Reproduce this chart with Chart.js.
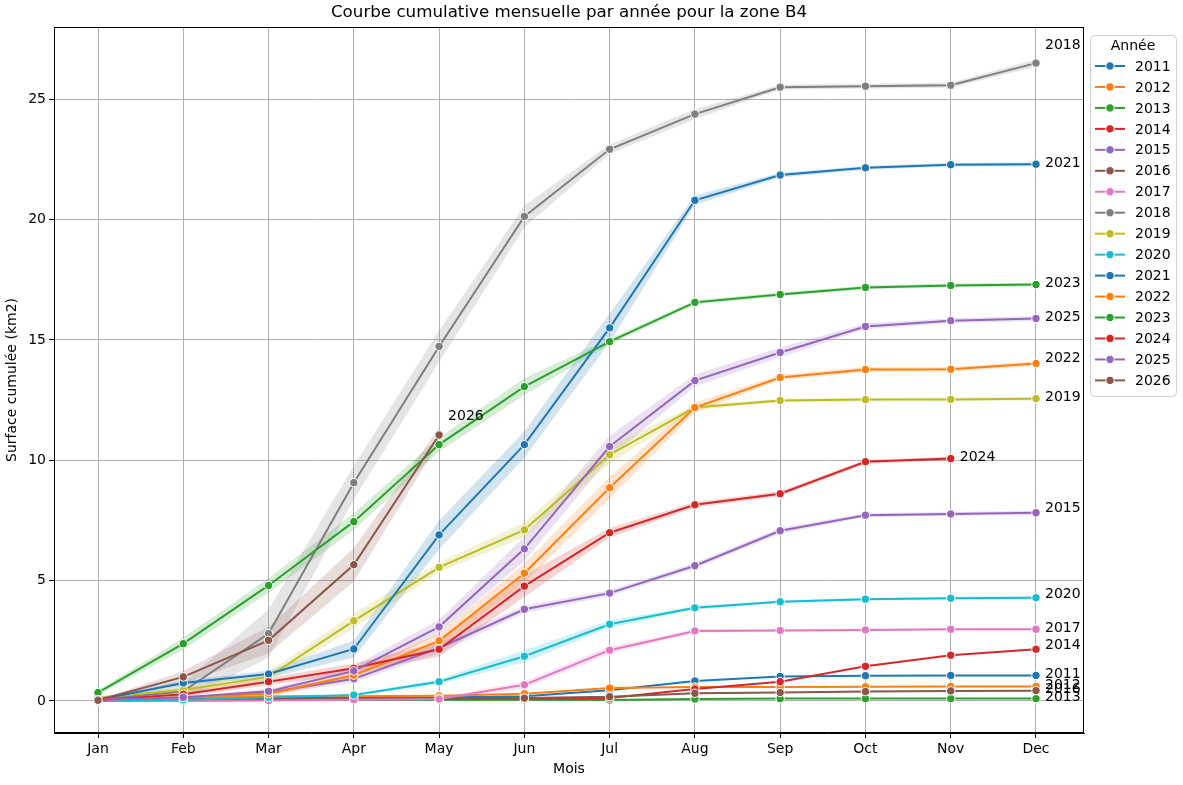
<!DOCTYPE html>
<html lang="fr">
<head>
<meta charset="UTF-8">
<title>Courbe cumulative mensuelle - zone B4</title>
<script src="https://cdn.jsdelivr.net/npm/chart.js"></script>
<style>
html, body { margin: 0; padding: 0; background: #fff; }
#wrap { width: 1183px; height: 785px; position: relative; }
</style>
</head>
<body>
<div id="wrap"><canvas id="chart"></canvas></div>
<script>
const chartTitle = "Courbe cumulative mensuelle par année pour la zone B4";
const months = ["Jan", "Feb", "Mar", "Apr", "May", "Jun", "Jul", "Aug", "Sep", "Oct", "Nov", "Dec"];
const years = [2011, 2012, 2013, 2014, 2015, 2016, 2017, 2018, 2019, 2020, 2021, 2022, 2023, 2024, 2025, 2026];

// moyenne cumulée (km2) par mois
const y2011 = [0.05, 0.1, 0.15, 0.15, 0.15, 0.2, 0.45, 0.83, 1.02, 1.05, 1.06, 1.06];
const y2012 = [0.05, 0.1, 0.2, 0.2, 0.22, 0.3, 0.54, 0.58, 0.58, 0.59, 0.6, 0.6];
const y2013 = [0.02, 0.03, 0.05, 0.05, 0.05, 0.05, 0.04, 0.08, 0.1, 0.1, 0.1, 0.1];
const y2014 = [0.02, 0.05, 0.08, 0.08, 0.1, 0.1, 0.12, 0.5, 0.8, 1.44, 1.9, 2.15];
const y2015 = [0.05, 0.15, 0.35, 0.92, 2.2, 3.81, 4.48, 5.62, 7.07, 7.72, 7.77, 7.82];
const y2016 = [0.03, 0.05, 0.1, 0.12, 0.12, 0.12, 0.18, 0.32, 0.35, 0.39, 0.42, 0.43];
const y2017 = [0.0, 0.0, 0.02, 0.05, 0.08, 0.67, 2.11, 2.91, 2.93, 2.95, 2.98, 2.98];
const y2018 = [0.05, 0.4, 2.8, 9.07, 14.73, 20.13, 22.92, 24.38, 25.5, 25.54, 25.58, 26.5];
const y2019 = [0.15, 0.46, 1.0, 3.33, 5.55, 7.11, 10.23, 12.19, 12.48, 12.52, 12.53, 12.56];
const y2020 = [0.0, 0.05, 0.15, 0.25, 0.8, 1.86, 3.19, 3.87, 4.12, 4.23, 4.27, 4.29];
const y2021 = [0.05, 0.75, 1.12, 2.16, 6.9, 10.65, 15.5, 20.8, 21.85, 22.15, 22.28, 22.3];
const y2022 = [0.05, 0.15, 0.3, 1.07, 2.5, 5.31, 8.86, 12.19, 13.44, 13.77, 13.78, 14.02];
const y2023 = [0.35, 2.38, 4.8, 7.45, 10.65, 13.06, 14.93, 16.56, 16.89, 17.18, 17.26, 17.3];
const y2024 = [0.03, 0.28, 0.8, 1.36, 2.15, 4.77, 6.99, 8.15, 8.61, 9.94, 10.07, null];
const y2025 = [0.05, 0.15, 0.4, 1.25, 3.08, 6.32, 10.57, 13.31, 14.48, 15.56, 15.8, 15.89];
const y2026 = [0.03, 1.0, 2.52, 5.66, 11.05, null, null, null, null, null, null, null];

// demi-largeur de l'intervalle de confiance
const band2015 = [0.02, 0.05, 0.1, 0.15, 0.2, 0.15, 0.12, 0.12, 0.12, 0.08, 0.08, 0.08];
const band2017 = [0.02, 0.02, 0.02, 0.03, 0.05, 0.15, 0.15, 0.08, 0.05, 0.05, 0.05, 0.05];
const band2018 = [0.05, 0.35, 1.0, 0.7, 0.65, 0.45, 0.2, 0.2, 0.1, 0.1, 0.1, 0.15];
const band2019 = [0.05, 0.1, 0.2, 0.3, 0.2, 0.3, 0.35, 0.1, 0.08, 0.08, 0.08, 0.08];
const band2020 = [0.02, 0.02, 0.05, 0.05, 0.1, 0.25, 0.15, 0.08, 0.06, 0.06, 0.06, 0.06];
const band2021 = [0.05, 0.1, 0.15, 0.35, 0.6, 0.55, 0.6, 0.2, 0.1, 0.08, 0.08, 0.08];
const band2022 = [0.02, 0.05, 0.1, 0.2, 0.3, 0.4, 0.45, 0.2, 0.12, 0.1, 0.1, 0.1];
const band2023 = [0.1, 0.25, 0.3, 0.35, 0.3, 0.35, 0.12, 0.1, 0.08, 0.08, 0.08, 0.08];
const band2024 = [0.02, 0.1, 0.15, 0.2, 0.3, 0.45, 0.2, 0.12, 0.1, 0.08, 0.08, null];
const band2025 = [0.02, 0.05, 0.1, 0.2, 0.3, 0.5, 0.45, 0.25, 0.2, 0.12, 0.1, 0.1];
const band2026 = [0.02, 0.25, 0.55, 0.7, 0.3, null, null, null, null, null, null, null];

const series = [y2011, y2012, y2013, y2014, y2015, y2016, y2017, y2018,
                y2019, y2020, y2021, y2022, y2023, y2024, y2025, y2026];
const bands = { 2015: band2015, 2017: band2017, 2018: band2018, 2019: band2019, 2020: band2020,
                2021: band2021, 2022: band2022, 2023: band2023, 2024: band2024, 2025: band2025, 2026: band2026 };

const tab10 = ["#1f77b4", "#ff7f0e", "#2ca02c", "#d62728", "#9467bd",
               "#8c564b", "#e377c2", "#7f7f7f", "#bcbd22", "#17becf"];
const colorOf = i => tab10[i % 10];
const labelShift = { 2018: -18, 2026: -19, 2022: -5, 2015: -4, 2014: -4, 2020: -3 };

const toPoints = (vals, f) => vals
  .map((v, i) => v == null ? null : { x: i, y: f(v, i) })
  .filter(p => p);

const datasets = [];
years.forEach((yr, i) => {
  const vals = series[i];
  const col = colorOf(i);
  const b = bands[yr];
  if (b) {
    datasets.push({
      data: toPoints(vals, (v, k) => v + (b[k] || 0)),
      borderWidth: 0, pointRadius: 0, fill: "+1",
      backgroundColor: col + "33", order: 100
    });
    datasets.push({
      data: toPoints(vals, (v, k) => v - (b[k] || 0)),
      borderWidth: 0, pointRadius: 0, fill: false, order: 100
    });
  }
  datasets.push({
    label: String(yr),
    data: toPoints(vals, v => v),
    borderColor: col, backgroundColor: col,
    borderWidth: 2, tension: 0, fill: false,
    pointRadius: 4.2, pointHoverRadius: 4.2,
    pointBackgroundColor: col, pointBorderColor: "#fff", pointBorderWidth: 1,
    order: 50 - i
  });
});

const overlay = {
  id: "overlay",
  afterDraw(chart) {
    const { ctx, chartArea: a, scales: { x, y } } = chart;
    ctx.save();
    ctx.strokeStyle = "#000";
    ctx.lineWidth = 1;
    ctx.strokeRect(a.left + 0.5, a.top + 0.5, a.right - a.left - 1, a.bottom - a.top - 1);

    ctx.fillStyle = "#000";
    ctx.font = '16.7px "DejaVu Sans"';
    ctx.textAlign = "center";
    ctx.textBaseline = "middle";
    ctx.fillText(chartTitle, (a.left + a.right) / 2, 13);

    // étiquettes en fin de courbe
    ctx.font = '14px "DejaVu Sans"';
    ctx.textAlign = "left";
    years.forEach((yr, i) => {
      const vals = series[i];
      let last = vals.length - 1;
      while (vals[last] == null) last--;
      const dy = labelShift[yr] !== undefined ? labelShift[yr] : -1;
      ctx.fillText(String(yr), x.getPixelForValue(last) + 9, y.getPixelForValue(vals[last]) + dy);
    });

    // légende
    const lx = a.right + 6, ly = 35, lw = 86, lh = 361;
    ctx.beginPath();
    ctx.roundRect(lx + 0.5, ly + 0.5, lw, lh, 4);
    ctx.fillStyle = "rgba(255,255,255,0.8)";
    ctx.fill();
    ctx.strokeStyle = "#d0d0d0";
    ctx.stroke();
    ctx.fillStyle = "#000";
    ctx.textAlign = "center";
    ctx.fillText("Année", lx + 43, ly + 11);
    ctx.textAlign = "left";
    years.forEach((yr, i) => {
      const ry = 66 + i * 20.96;
      const col = colorOf(i);
      ctx.strokeStyle = col;
      ctx.lineWidth = 2;
      ctx.beginPath();
      ctx.moveTo(lx + 5, ry);
      ctx.lineTo(lx + 35, ry);
      ctx.stroke();
      ctx.beginPath();
      ctx.arc(lx + 20, ry, 4.2, 0, Math.PI * 2);
      ctx.fillStyle = col;
      ctx.fill();
      ctx.strokeStyle = "#fff";
      ctx.lineWidth = 1;
      ctx.stroke();
      ctx.fillStyle = "#000";
      ctx.fillText(String(yr), lx + 45, ry + 1);
    });
    ctx.restore();
  }
};

Chart.defaults.font.family = '"DejaVu Sans"';
Chart.defaults.color = "#000";

new Chart(document.getElementById("chart"), {
  type: "line",
  data: { datasets: datasets },
  options: {
    responsive: true,
    maintainAspectRatio: false,
    animation: false,
    layout: { padding: { top: 27, right: 99, left: 0, bottom: 0 } },
    plugins: {
      legend: { display: false },
      title: { display: false },
      tooltip: { enabled: false },
      filler: { propagate: false }
    },
    scales: {
      x: {
        type: "linear",
        min: -0.516, max: 11.563,
        afterBuildTicks: s => { s.ticks = months.map((m, i) => ({ value: i })); },
        afterFit: s => { s.height = 52; },
        ticks: { callback: v => months[v], font: { size: 14 }, padding: 3, maxRotation: 0, autoSkip: false },
        grid: { color: "#b0b0b0", lineWidth: 1, tickColor: "#000", tickLength: 5 },
        border: { color: "#000", width: 1 },
        title: { display: true, text: "Mois", font: { size: 14 }, padding: { top: 2, bottom: 7 } }
      },
      y: {
        type: "linear",
        min: -1.33, max: 28.0,
        afterBuildTicks: s => { s.ticks = [0, 5, 10, 15, 20, 25].map(v => ({ value: v })); },
        afterFit: s => { s.width = 54; },
        ticks: { font: { size: 14 }, padding: 3 },
        grid: { color: "#b0b0b0", lineWidth: 1, tickColor: "#000", tickLength: 5 },
        border: { color: "#000", width: 1 },
        title: { display: true, text: "Surface cumulée (km2)", font: { size: 14 }, padding: { top: 4, bottom: 4 } }
      }
    }
  },
  plugins: [overlay]
});
</script>
</body>
</html>
